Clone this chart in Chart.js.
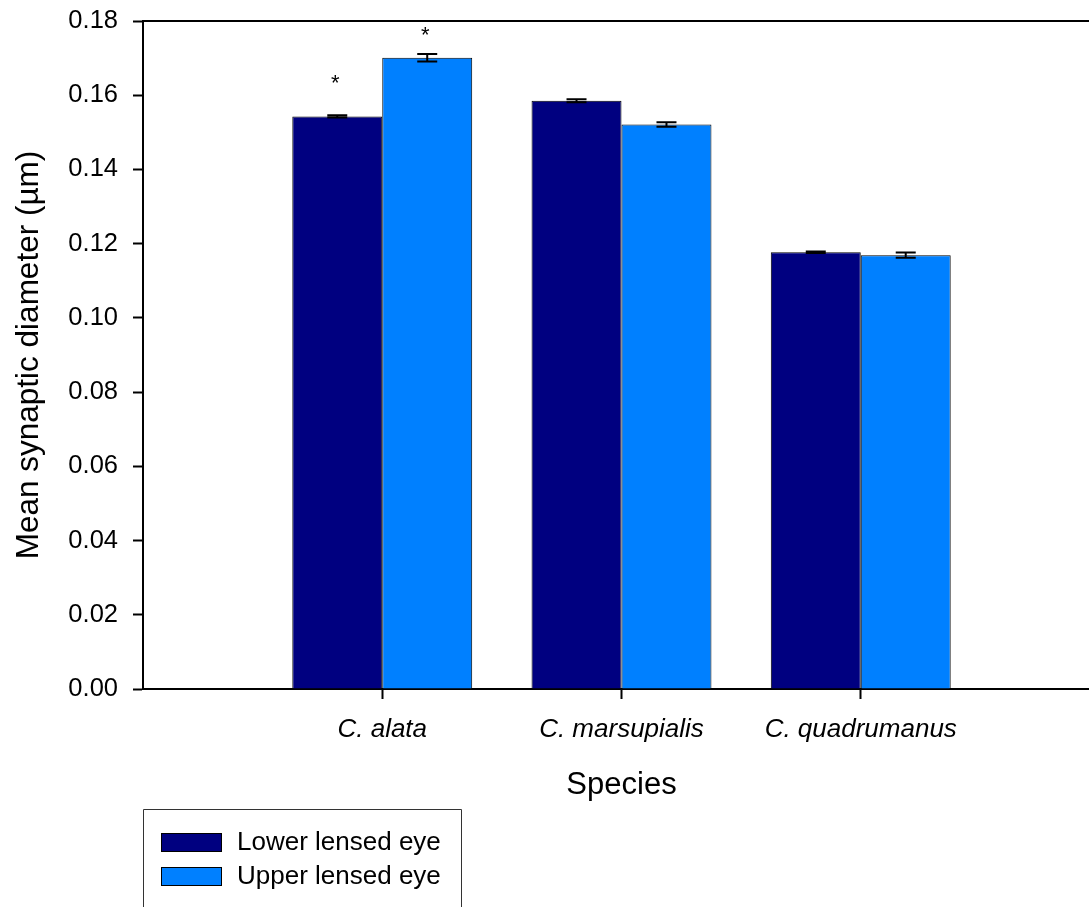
<!DOCTYPE html>
<html>
<head>
<meta charset="utf-8">
<script src="https://cdn.jsdelivr.net/npm/chart.js@4"></script>
<style>
  html, body { margin: 0; padding: 0; background: #fff; overflow: hidden; }
  #wrap { width: 1100px; height: 907px; }
</style>
</head>
<body>
<div id="wrap"><canvas id="graphCanvas" width="1100" height="907"></canvas></div>
<script>
// ================================
// Mean synaptic diameter chart
// ================================

// Data
const species = ['C. alata', 'C. marsupialis', 'C. quadrumanus'];
const lowerEye = [0.1543, 0.1585, 0.1177];
const lowerErr = [0.0003, 0.0004, 0.0002];
const upperEye = [0.1701, 0.1521, 0.1169];
const upperErr = [0.0010, 0.0006, 0.0007];
// significance marks and the value where each sits
const lowerSig = ['*', '', ''];
const lowerSigAt = [0.1644, 0, 0];
const upperSig = ['*', '', ''];
const upperSigAt = [0.1774, 0, 0];
const yTicks = [0, 0.02, 0.04, 0.06, 0.08, 0.10, 0.12, 0.14, 0.16, 0.18];

const FONT = "'Liberation Sans', Arial, sans-serif";

// empty slot on each side so the groups sit at 1, 2, 3 of the axis
const labels = [''].concat(species, ['']);
const pad = arr => [null].concat(arr, [null]);

// no extra room for label overflow, the frame is fixed
const noPad = s => {
  s.paddingTop = 0; s.paddingBottom = 0;
  s.paddingLeft = 0; s.paddingRight = 0;
};

// error bars + asterisks
const errorBarPlugin = {
  id: 'errorBars',
  afterDatasetsDraw(chart) {
    const ctx = chart.ctx;
    const y = chart.scales.y;
    chart.data.datasets.forEach((ds, di) => {
      const meta = chart.getDatasetMeta(di);
      meta.data.forEach((bar, i) => {
        const v = ds.data[i];
        if (v == null) return;
        const e = ds.errors[i - 1];
        const top = y.getPixelForValue(v + e);
        const bot = y.getPixelForValue(v - e);
        ctx.save();
        ctx.strokeStyle = '#000';
        ctx.lineWidth = 2;
        ctx.beginPath();
        ctx.moveTo(bar.x, top); ctx.lineTo(bar.x, bot);
        ctx.moveTo(bar.x - 10, top); ctx.lineTo(bar.x + 10, top);
        ctx.moveTo(bar.x - 10, bot); ctx.lineTo(bar.x + 10, bot);
        ctx.stroke();
        const mark = ds.sig[i - 1];
        if (mark) {
          ctx.font = '22px ' + FONT;
          ctx.fillStyle = '#000';
          ctx.textAlign = 'center';
          ctx.textBaseline = 'alphabetic';
          const m = ctx.measureText(mark);
          const cy = y.getPixelForValue(ds.sigAt[i - 1]);
          ctx.fillText(mark, bar.x - 2, cy + (m.actualBoundingBoxAscent - m.actualBoundingBoxDescent) / 2);
        }
        ctx.restore();
      });
    });
  }
};

// top frame line and the boxed legend under the axis
const framePlugin = {
  id: 'frame',
  afterDraw(chart) {
    const ctx = chart.ctx;
    const a = chart.chartArea;
    ctx.save();
    ctx.strokeStyle = '#000';
    ctx.lineWidth = 2;
    ctx.beginPath();
    ctx.moveTo(a.left, a.top);
    ctx.lineTo(a.right, a.top);
    ctx.stroke();

    // legend box (bottom edge falls off the page)
    const lx = a.left, ly = 809, lw = 318;
    ctx.lineWidth = 1;
    ctx.strokeStyle = '#333';
    ctx.beginPath();
    ctx.moveTo(lx + 0.5, chart.height + 5);
    ctx.lineTo(lx + 0.5, ly + 0.5);
    ctx.lineTo(lx + lw + 0.5, ly + 0.5);
    ctx.lineTo(lx + lw + 0.5, chart.height + 5);
    ctx.stroke();

    ctx.font = '26px ' + FONT;
    ctx.textAlign = 'left';
    ctx.textBaseline = 'middle';
    chart.data.datasets.forEach((ds, i) => {
      const sy = 833 + i * 34;
      ctx.fillStyle = ds.backgroundColor;
      ctx.fillRect(lx + 18, sy, 61, 19);
      ctx.strokeStyle = '#000';
      ctx.strokeRect(lx + 18.5, sy + 0.5, 60, 18);
      ctx.fillStyle = '#000';
      ctx.fillText(ds.label, lx + 94, sy + 10);
    });
    ctx.restore();
  }
};

const canvas = document.getElementById('graphCanvas');
const chart = new Chart(canvas.getContext('2d'), {
  type: 'bar',
  data: {
    labels: labels,
    datasets: [
      {
        label: 'Lower lensed eye',
        data: pad(lowerEye),
        errors: lowerErr,
        sig: lowerSig,
        sigAt: lowerSigAt,
        backgroundColor: '#000080',
        borderColor: '#000',
        borderWidth: 1
      },
      {
        label: 'Upper lensed eye',
        data: pad(upperEye),
        errors: upperErr,
        sig: upperSig,
        sigAt: upperSigAt,
        backgroundColor: '#0080ff',
        borderColor: '#000',
        borderWidth: 1
      }
    ]
  },
  options: {
    responsive: false,
    animation: false,
    devicePixelRatio: 1,
    categoryPercentage: 0.752,
    barPercentage: 1.0,
    layout: { padding: { top: 21, left: 0, right: 0, bottom: 98 } },
    plugins: { legend: { display: false }, tooltip: { enabled: false } },
    scales: {
      x: {
        offset: false,
        afterFit: s => { s.height = 120; noPad(s); },
        grid: {
          offset: false,
          drawOnChartArea: false,
          tickLength: 10,
          tickWidth: 2,
          tickColor: c => (c.tick && c.tick.label ? '#000' : 'rgba(0,0,0,0)')
        },
        border: { display: true, color: '#000', width: 2 },
        ticks: {
          color: '#000',
          padding: 15,
          maxRotation: 0,
          autoSkip: false,
          font: { family: FONT, size: 26, style: 'italic' }
        },
        title: {
          display: true,
          text: 'Species',
          color: '#000',
          padding: { top: 0, bottom: 5 },
          font: { family: FONT, size: 31 }
        }
      },
      y: {
        min: 0,
        max: 0.18,
        afterFit: s => { s.width = 143; noPad(s); },
        afterBuildTicks: s => { s.ticks = yTicks.map(v => ({ value: v })); },
        grid: { drawOnChartArea: false, tickLength: 10, tickWidth: 2, tickColor: '#000' },
        border: { display: true, color: '#000', width: 2 },
        ticks: {
          color: '#000',
          padding: 15,
          font: { family: FONT, size: 25.5 },
          callback: v => v.toFixed(2)
        },
        title: {
          display: true,
          text: 'Mean synaptic diameter (µm)',
          color: '#000',
          padding: { top: 10, bottom: 0 },
          font: { family: FONT, size: 31.5 }
        }
      }
    }
  },
  plugins: [errorBarPlugin, framePlugin]
});
</script>
</body>
</html>
